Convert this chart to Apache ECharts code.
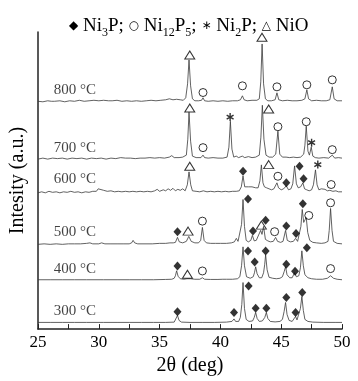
<!DOCTYPE html>
<html>
<head>
<meta charset="utf-8">
<script src="https://cdn.jsdelivr.net/npm/echarts@6/dist/echarts.min.js"></script>
<style>
  html, body { margin: 0; padding: 0; background: #fff; }
  #chart { width: 358px; height: 381px; }
</style>
</head>
<body>
<div id="chart"></div>
<script>
// XRD patterns, [2theta, counts above own baseline]
const p800 = [[25.0,0.5],[25.4,0],[25.8,1],[26.1,0.5],[26.2,2],[26.35,0.5],[26.8,1],[27.2,0],[27.6,1],[28.0,0.5],[28.4,1.5],[28.8,0.5],[29.2,1],[29.6,1.5],[30.0,1],[30.4,1.5],[30.8,1],[30.95,2.5],[31.1,1],[31.5,1.5],[31.9,0.5],[32.3,1],[32.7,0.5],[33.1,1],[33.5,0.5],[33.9,1],[34.3,1.5],[34.7,1],[35.1,1.5],[35.5,2],[35.8,3],[36.1,2],[36.4,2.5],[36.7,2],[36.95,1.5],[37.15,4],[37.3,18],[37.42,42],[37.55,16],[37.7,3],[37.9,1],[38.2,1],[38.45,1.5],[38.57,4],[38.7,1],[39.0,0.5],[39.4,1],[39.8,0.5],[40.2,1],[40.6,0.5],[41.0,1],[41.4,1],[41.65,2],[41.81,6],[41.95,2],[42.2,1],[42.6,1.5],[43.0,1.5],[43.2,3],[43.32,20],[43.43,58],[43.55,18],[43.7,3],[43.9,1],[44.2,1],[44.5,2],[44.65,9],[44.8,2],[45.1,1],[45.5,1.5],[45.9,1],[46.3,1],[46.7,1.5],[46.95,3],[47.11,12],[47.25,3],[47.5,1],[47.9,1.5],[48.3,1],[48.7,1],[49.0,2],[49.2,15],[49.35,3],[49.6,1],[50.0,1]];
const p700 = [[25.0,0],[25.4,1],[25.8,0],[26.2,1],[26.6,0.5],[27.0,1],[27.4,0],[27.8,1],[28.2,0.5],[28.6,1],[29.0,0],[29.4,1],[29.8,0.5],[30.2,1],[30.6,0],[31.0,1],[31.4,0.5],[31.8,1.5],[32.2,1],[32.6,1],[33.0,0.5],[33.4,1],[33.8,1],[34.2,1.5],[34.6,1],[35.0,1.5],[35.4,1],[35.8,2],[36.0,3.5],[36.2,1.5],[36.6,1.5],[36.9,2],[37.2,4],[37.32,20],[37.42,47],[37.55,18],[37.7,3],[38.0,1.5],[38.4,1.5],[38.57,4],[38.7,1.5],[39.0,1],[39.4,1.5],[39.8,1],[40.2,1],[40.55,2],[40.7,12],[40.82,38],[40.95,10],[41.1,2],[41.3,3],[41.5,1.5],[41.8,3],[42.0,1.5],[42.3,2.5],[42.6,1.5],[42.9,2],[43.2,4],[43.33,22],[43.45,54],[43.58,20],[43.75,4],[44.0,2],[44.3,2],[44.55,5],[44.73,28],[44.88,5],[45.1,2],[45.4,2],[45.7,1.5],[46.0,2],[46.3,1.5],[46.6,2],[46.85,5],[46.95,14],[47.06,33],[47.2,8],[47.32,4],[47.47,12],[47.6,3],[47.8,1.5],[48.1,1],[48.5,1.5],[48.9,1],[49.2,4],[49.4,1],[49.7,1.5],[50.0,1]];
const p600 = [[25.0,0],[25.3,1],[25.6,0],[25.9,1.5],[26.2,0.5],[26.5,1],[26.8,0],[27.1,1],[27.4,0.5],[27.7,1.5],[28.0,0.5],[28.3,1],[28.6,0],[28.9,1],[29.2,0.5],[29.5,1.5],[29.8,1.5],[29.95,4],[30.1,2],[30.4,2.5],[30.7,1.5],[31.0,2],[31.3,1],[31.6,1.5],[31.9,1],[32.2,1.5],[32.5,1],[32.8,1.5],[33.1,1],[33.4,1.5],[33.7,1],[34.0,1.5],[34.3,1],[34.6,2],[34.8,3.5],[35.0,1.5],[35.3,3],[35.5,2],[35.7,4],[35.9,2.5],[36.1,4.5],[36.3,2],[36.5,3.5],[36.7,2.5],[36.9,4],[37.1,2],[37.28,8],[37.42,21],[37.56,8],[37.7,2],[38.0,1.5],[38.3,1],[38.6,2],[38.9,1],[39.2,1.5],[39.5,1],[39.8,1.5],[40.1,1],[40.4,1.5],[40.7,1],[41.0,1.5],[41.3,1.5],[41.55,2],[41.72,6],[41.86,17],[42.0,6],[42.15,4],[42.3,6],[42.45,4],[42.6,6],[42.75,4],[42.9,5],[43.1,5],[43.25,12],[43.37,28],[43.5,10],[43.62,6],[43.8,5],[44.0,4],[44.2,3],[44.4,4],[44.52,6],[44.65,10],[44.78,5],[45.0,3],[45.2,4],[45.42,7],[45.6,3],[45.8,4],[45.95,9],[46.1,27],[46.25,9],[46.4,5],[46.6,6],[46.78,10],[46.92,4],[47.1,3],[47.3,2],[47.5,3],[47.65,8],[47.82,23],[47.95,8],[48.1,3],[48.3,4],[48.45,2.5],[48.6,3.5],[48.8,2],[49.0,2.5],[49.11,3.5],[49.25,1.5],[49.5,2],[49.7,1],[50.0,1]];
const p500 = [[25.0,0],[25.5,0.5],[26.0,0],[26.5,0.5],[27.0,0],[27.5,0.5],[28.0,0.5],[28.5,0.5],[29.0,1],[29.27,1.5],[29.5,0.5],[30.0,0.5],[30.23,1.5],[30.5,0.5],[31.0,0.5],[31.5,0.5],[32.0,0.5],[32.5,0.5],[32.7,1.5],[32.82,4],[32.95,1.5],[33.2,0.5],[33.8,0.5],[34.4,0.5],[35.0,1],[35.5,1],[35.85,1.5],[35.98,3],[36.12,1.5],[36.3,2],[36.47,7],[36.62,2.5],[36.9,1.5],[37.2,3],[37.4,8],[37.6,3],[37.9,1.5],[38.2,1.5],[38.38,4],[38.52,17],[38.66,4],[38.85,1.5],[39.2,1],[39.6,1],[40.0,1],[40.5,1],[40.9,1.5],[41.15,2.5],[41.31,6],[41.45,3],[41.6,5],[41.74,20],[41.86,45],[41.98,18],[42.12,4],[42.3,2.5],[42.5,4],[42.63,9],[42.78,3.5],[42.95,4],[43.1,5],[43.31,14],[43.42,10],[43.55,18],[43.7,5],[43.9,3.5],[44.1,2.5],[44.35,3],[44.54,7],[44.7,3],[44.95,2],[45.15,3],[45.36,14],[45.5,4],[45.75,2.5],[46.0,3],[46.18,6],[46.35,3],[46.5,5],[46.62,18],[46.73,35],[46.85,22],[46.95,21],[47.06,27],[47.18,12],[47.35,4],[47.6,2],[47.9,1.5],[48.3,1],[48.6,1.5],[48.85,3],[48.95,14],[49.06,36],[49.18,14],[49.3,3],[49.6,1],[50.0,0.5]];
const p400 = [[25.0,0],[26.0,0],[27.0,0],[28.0,0],[29.0,0],[30.1,0],[30.25,1],[30.4,0],[31.5,0],[32.5,0],[33.5,0],[34.5,0],[35.5,0.3],[36.0,0.5],[36.2,1.5],[36.3,4],[36.4,9],[36.52,3.5],[36.7,1],[37.0,0.5],[37.25,1],[37.4,2],[37.55,1],[37.9,0.5],[38.3,0.5],[38.52,2],[38.7,0.5],[39.2,0.3],[39.8,0.3],[40.2,0.5],[40.35,1],[40.5,0.5],[41.0,0.5],[41.4,1],[41.6,3],[41.74,14],[41.86,33],[41.98,14],[42.15,3],[42.45,1.5],[42.7,3],[42.8,7],[42.9,13],[43.02,6],[43.2,2],[43.4,2],[43.55,7],[43.64,15],[43.72,25],[43.84,10],[44.0,2.5],[44.3,1.5],[44.6,1],[44.9,1.5],[45.1,3],[45.24,8],[45.36,13],[45.48,5],[45.7,2],[45.9,2],[46.1,7],[46.25,3],[46.45,4],[46.58,12],[46.7,29],[46.82,14],[46.95,5],[47.2,2],[47.5,1],[47.9,0.5],[48.4,0.5],[48.8,1.5],[49.06,4],[49.3,1.5],[49.6,0.5],[50.0,0]];
const p300 = [[25.0,0],[26.0,0],[27.0,0],[28.0,0],[29.0,0],[30.1,0],[30.25,1],[30.4,0],[31.5,0],[32.5,0],[33.5,0],[34.5,0],[35.5,0],[36.2,0.3],[36.35,2],[36.47,7],[36.6,2],[36.8,0.3],[37.5,0],[38.5,0],[39.5,0],[40.5,0.3],[40.95,1],[41.12,3.5],[41.25,1],[41.5,1],[41.64,5],[41.76,18],[41.86,40],[41.98,14],[42.12,3],[42.35,1],[42.65,1.5],[42.78,5],[42.9,10],[43.02,4],[43.2,1],[43.45,1.5],[43.65,5],[43.78,10],[43.9,4],[44.1,1],[44.5,0.5],[44.9,1],[45.1,3],[45.24,11],[45.36,20],[45.48,8],[45.65,2],[45.9,1],[46.05,3],[46.18,6],[46.3,2.5],[46.45,4],[46.58,14],[46.7,26],[46.82,12],[46.95,3],[47.2,1],[47.6,0.3],[48.5,0],[49.5,0],[50.0,0]];

const patterns = [p800, p700, p600, p500, p400, p300];
const offsets = [228, 170.5, 136.7, 85, 49.5, 6.7];   // vertical stacking
const temps = ['800 °C', '700 °C', '600 °C', '500 °C', '400 °C', '300 °C'];
const tempLabelY = [240, 182, 150, 97, 60, 18];

// phase markers [2theta, stacked height]
const ni3p = [[41.86,158.3],[45.42,146.7],[46.51,163.3],[46.84,150.7],
  [36.47,97.7],[42.27,130.5],[42.68,98.3],[43.72,109.3],[45.42,103.5],[46.22,96],[46.78,125.7],
  [36.47,63.3],[42.27,78.3],[42.82,67.3],[43.72,78.3],[45.42,65],[46.14,58],[47.11,81.7],
  [36.47,17.3],[41.12,16.7],[42.32,43.3],[42.9,21],[43.78,21],[45.42,31.7],[46.18,16.7],[46.73,36.7]];
const ni12p5 = [[38.57,237.3],[41.81,244],[44.65,243],[47.11,245],[49.2,250],
  [38.57,182],[44.73,203],[47.06,208],[49.2,180],
  [44.73,153.3],[49.11,145],
  [38.52,108.3],[44.46,97.7],[47.27,114],[49.06,126.7],
  [38.52,58.3],[49.06,60.7]];
const ni2p = [[40.8,212.7],[47.5,187],[48.01,165]];
const nio = [[37.48,275],[43.42,292.7],[37.48,221.7],[43.97,220.7],[37.48,163.3],[43.97,165],
  [37.34,98.3],[43.37,104.3],[37.29,55]];

const FONT = 'Liberation Serif';
const chart = echarts.init(document.getElementById('chart'));

const series = patterns.map((p, i) => ({
  type: 'line',
  data: p.map(d => [d[0], d[1] + offsets[i]]),
  showSymbol: false,
  lineStyle: { color: '#3a3a3a', width: 0.8 },
  z: 2
}));

series.push({
  type: 'scatter',
  data: temps.map((t, i) => ({ value: [26.3, tempLabelY[i]], name: t })),
  symbolSize: 0,
  label: { show: true, position: 'right', distance: 0, formatter: '{b}',
    fontFamily: FONT, fontSize: 15, color: '#111' }
});
series.push({ type: 'scatter', data: ni3p, symbol: 'diamond', symbolSize: [8, 9],
  itemStyle: { color: '#000' }, z: 3 });
series.push({ type: 'scatter', data: ni12p5, symbol: 'circle', symbolSize: 8,
  itemStyle: { color: 'none', borderColor: '#000', borderWidth: 1 }, z: 3 });
series.push({ type: 'scatter', data: nio, symbol: 'triangle', symbolSize: [10, 8],
  itemStyle: { color: 'none', borderColor: '#000', borderWidth: 1 }, z: 3 });
series.push({ type: 'scatter', data: ni2p,
  symbol: 'path://M0 -10 L0 10 M-8.66 -5 L8.66 5 M-8.66 5 L8.66 -5', symbolSize: 8, symbolKeepAspect: true,
  itemStyle: { color: 'none', borderColor: '#000', borderWidth: 1.4 }, z: 3 });

chart.setOption({
  animation: false,
  title: {
    text: '{g|◆} Ni{s|3}P; {g|○} Ni{s|12}P{s|5}; {g|∗} Ni{s|2}P; {g|△} NiO',
    left: 64, top: 10,
    textStyle: {
      fontFamily: FONT, fontSize: 19, fontWeight: 'normal', color: '#000', lineHeight: 22,
      rich: {
        g: { fontFamily: 'DejaVu Sans', fontSize: 12, color: '#000', lineHeight: 22 },
        s: { fontFamily: FONT, fontSize: 12, color: '#000', verticalAlign: 'bottom', lineHeight: 12, padding: [0, 0, -2, 0] }
      }
    }
  },
  grid: { left: 38, right: 16, top: 32, bottom: 51 },
  xAxis: {
    type: 'value', min: 25, max: 50, interval: 5,
    name: '2θ (deg)', nameLocation: 'middle', nameGap: 26,
    nameTextStyle: { fontFamily: FONT, fontSize: 20, color: '#000' },
    axisLine: { lineStyle: { color: '#222', width: 1.5 } },
    axisTick: { inside: true, length: 5, lineStyle: { color: '#222' } },
    minorTick: { show: true, splitNumber: 2, length: 5, lineStyle: { color: '#222' } },
    axisLabel: { fontFamily: FONT, fontSize: 17, color: '#000', margin: 5 },
    splitLine: { show: false }
  },
  yAxis: {
    type: 'value', min: 0, max: 298,
    name: 'Intesity (a.u.)', nameLocation: 'middle', nameGap: 10,
    nameTextStyle: { fontFamily: FONT, fontSize: 20, color: '#000' },
    axisLine: { show: true, lineStyle: { color: '#222', width: 1.5 } },
    axisTick: { show: false },
    axisLabel: { show: false },
    splitLine: { show: false }
  },
  series: series
});
</script>
</body>
</html>
